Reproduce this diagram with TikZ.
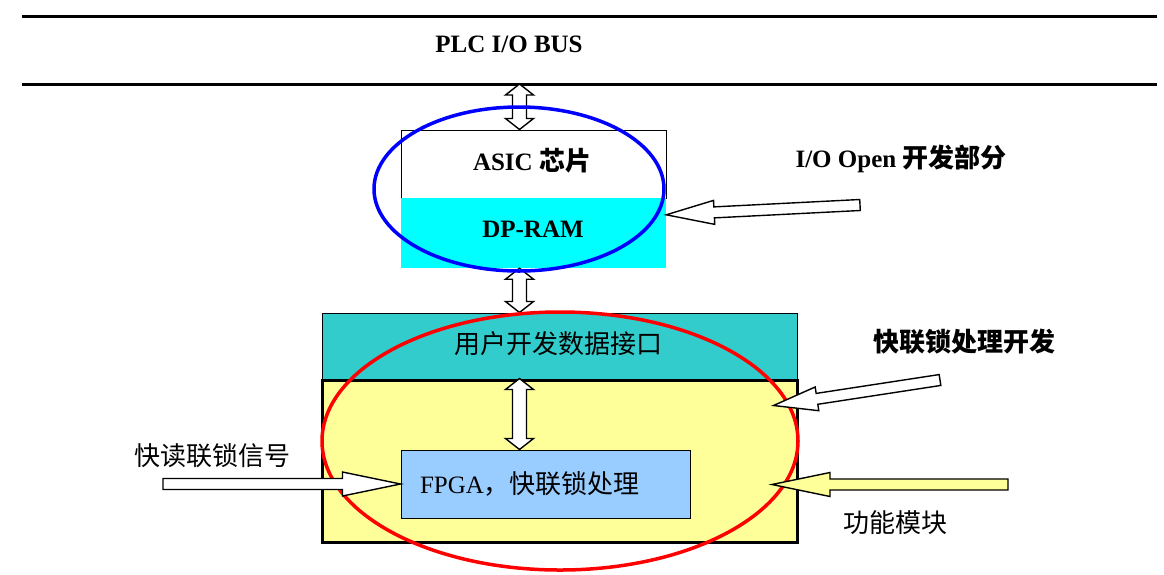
\documentclass[tikz,border=0pt]{standalone}
\usepackage{fontspec}
\setmainfont{Liberation Serif}
\newfontfamily\cjk{Noto Sans CJK SC}
\usetikzlibrary{calc}

\definecolor{dpcyan}{HTML}{00FFFF}
\definecolor{ifteal}{HTML}{33CCCC}
\definecolor{panelyellow}{HTML}{FFFF99}
\definecolor{fpgablue}{HTML}{99CCFF}

\tikzset{
  arrowline/.style={draw=black, line width=1.4pt, fill=white, line join=miter},
  box/.style={draw=black, line width=1pt, inner sep=0pt},
  lbl/.style={font=\fontsize{25}{30}\selectfont, inner sep=0pt},
}

% fat single arrow: fill, from, to, head length
\newcommand{\fatarrow}[4]{%
  \coordinate (fa-n) at ($(#3)!#4pt!(#2)$);
  \draw[arrowline, fill=#1] ($(#2)!5.5pt!90:(#3)$) -- ($(fa-n)!5.5pt!-90:(#2)$)
    -- ($(fa-n)!12pt!-90:(#2)$) -- (#3) -- ($(fa-n)!12pt!90:(#2)$)
    -- ($(fa-n)!5.5pt!90:(#2)$) -- ($(#2)!5.5pt!-90:(#3)$) -- cycle;
}
% fat double arrow between two points
\newcommand{\dblarrow}[2]{%
  \coordinate (da-a) at ($(#1)!11pt!(#2)$);
  \coordinate (da-b) at ($(#2)!11pt!(#1)$);
  \draw[arrowline] (#1) -- ($(da-a)!14pt!90:(#2)$) -- ($(da-a)!7pt!90:(#2)$)
    -- ($(da-b)!7pt!-90:(#1)$) -- ($(da-b)!14pt!-90:(#1)$) -- (#2)
    -- ($(da-b)!14pt!90:(#1)$) -- ($(da-b)!7pt!90:(#1)$)
    -- ($(da-a)!7pt!-90:(#2)$) -- ($(da-a)!14pt!-90:(#2)$) -- cycle;
}

\begin{document}
\begin{tikzpicture}[x=1pt, y=-1pt]
\useasboundingbox (0,0) rectangle (1164,574);

% bus
\coordinate (busl) at (22,16);
\coordinate (busr) at (1157,16);
\coordinate (busbl) at (22,84);
\coordinate (busbr) at (1157,84);
\draw[line width=3pt] (busl) -- (busr);
\draw[line width=3pt] (busbl) -- (busbr);
\node[lbl, font=\fontsize{25}{30}\selectfont\bfseries] (bus) at (509,44) {PLC I/O BUS};
\coordinate (axis) at (519.5,0);

% ASIC and DP-RAM
\node[box, minimum width=265, minimum height=68] (asic) at (533.5,164) {};
\node[lbl, font=\fontsize{25}{30}\selectfont\bfseries] at (532,161) {ASIC {\cjk\fontsize{26}{30}\selectfont 芯片}};
\node[fill=dpcyan, inner sep=0pt, minimum width=265, minimum height=70] (dpram) at (533.5,233) {};
\node[lbl, font=\fontsize{25}{30}\selectfont\bfseries] at (533,229) {DP-RAM};

% interface and panel
\node[box, fill=ifteal, minimum width=475, minimum height=67] (iface) at (559.5,346.5) {};
\node[lbl, font=\fontsize{26}{30}\selectfont\cjk] at (558,344) {用户开发数据接口};
\node[box, fill=panelyellow, line width=3pt, minimum width=475, minimum height=162] (panel) at (559.5,461) {};
\node[box, fill=fpgablue, minimum width=289, minimum height=68, inner xsep=19, text width=251, align=left,
  font=\fontsize{25}{30}\selectfont] (fpga) at (545.5,484) {FPGA{\cjk\fontsize{26}{30}\selectfont ，快联锁处理}};

% vertical links
\dblarrow{axis |- busbl}{axis |- asic.north}
\dblarrow{axis |- dpram.south}{axis |- iface.north}
\dblarrow{axis |- panel.north}{axis |- fpga.north}

% groups
\draw[blue, line width=3.5pt] (519,189) ellipse [x radius=145, y radius=82];
\draw[red, line width=3.5pt] (560,441) ellipse [x radius=238, y radius=129];

% side labels
\node[lbl, font=\fontsize{25}{30}\selectfont\bfseries] (ioopen) at (901,159) {I/O Open {\cjk\fontsize{26}{30}\selectfont 开发部分}};
\node[lbl, font=\fontsize{26}{30}\selectfont\cjk\bfseries] (fastdev) at (964,342) {快联锁处理开发};
\node[lbl, font=\fontsize{26}{30}\selectfont\cjk] (fastsig) at (212,456) {快读联锁信号};
\node[lbl, font=\fontsize{26}{30}\selectfont\cjk] (func) at (895,523) {功能模块};

% side arrows
\coordinate (ioopen-tail) at (860,205);
\coordinate (ioopen-tip) at ($(dpram.north east)+(0,17)$);
\fatarrow{white}{ioopen-tail}{ioopen-tip}{48}
\coordinate (fastdev-tail) at (940,380);
\coordinate (fastdev-tip) at ($(panel.north east)+(-25,27)$);
\fatarrow{white}{fastdev-tail}{fastdev-tip}{44}
\coordinate (fastsig-tail) at (163,484);
\fatarrow{white}{fastsig-tail}{fpga.west}{58}
\coordinate (func-tail) at (1008,484.5);
\coordinate (func-tip) at (772,484.5);
\fatarrow{panelyellow}{func-tail}{func-tip}{58}
\end{tikzpicture}
\end{document}
